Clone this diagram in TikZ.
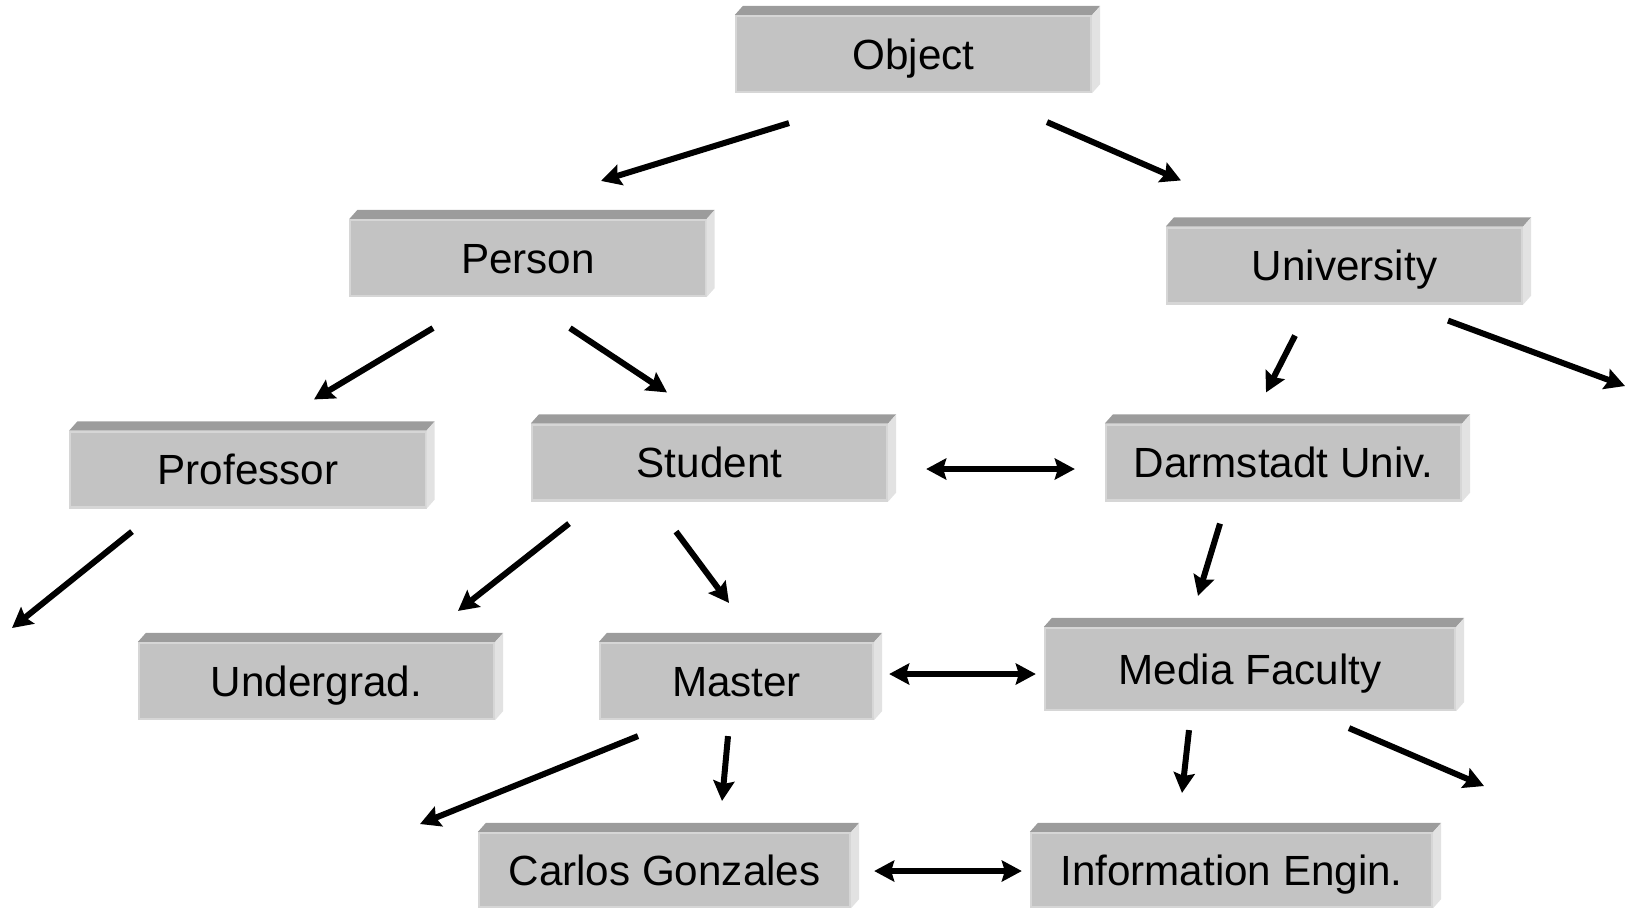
\documentclass[tikz,border=0pt]{standalone}
\usepackage{fontspec}
\setmainfont{Liberation Sans}
\usepackage{xcolor}
\usetikzlibrary{calc,arrows.meta}

\definecolor{boxfront}{HTML}{C3C3C3}
\definecolor{boxtop}{HTML}{9C9C9C}
\definecolor{boxside}{HTML}{E2E2E2}
\definecolor{boxedge}{HTML}{D6D6D6}

\tikzset{
  classbox/.style={fill=boxfront, draw=boxedge, line width=0.6pt, inner sep=0pt,
    text height=8.6pt, text depth=0pt,
    minimum width=3.55cm, minimum height=0.76cm, font=\fontsize{12pt}{14pt}\selectfont},
  arr/.style={line width=0.06cm, -{Stealth[length=0.2cm,width=0.21cm,inset=0.03cm]}},
  biarr/.style={line width=0.06cm, {Stealth[length=0.2cm,width=0.21cm,inset=0.03cm]}-{Stealth[length=0.2cm,width=0.21cm,inset=0.03cm]}}
}

\begin{document}
\begin{tikzpicture}[x=0.01cm, y=-0.01cm]
        \useasboundingbox (0,0) rectangle (1625,908);

        % Draw the class boxes
        \node[classbox] (obj) at (913.5,54) {Object};
        \node[classbox] (per) at (528,258) {Person};
        \node[classbox] (uni) at (1344.5,265.5) {University};
        \node[classbox] (prof) at (248,469.5) {Professor};
        \node[classbox] (stu) at (709.5,462.5) {Student};
        \node[classbox] (dar) at (1283.5,462.5) {Darmstadt Univ.};
        \node[classbox] (und) at (316.5,681) {Undergrad.};
        \node[classbox, minimum width=2.73cm] (mas) at (736.5,681) {Master};
        \node[classbox, minimum width=4.10cm, minimum height=0.82cm] (med) at (1250,669) {Media Faculty};
        \node[classbox, minimum width=3.71cm, minimum height=0.74cm] (car) at (664.5,870) {Carlos Gonzales};
        \node[classbox, minimum width=4.01cm, minimum height=0.74cm] (inf) at (1231.5,870) {Information Engin.};

        % Add the top and side faces
        \foreach \n in {obj,per,uni,prof,stu,dar,und,mas,med,car,inf}{
          \fill[boxtop] (\n.north west) -- ++(8,-9) -- ($(\n.north east)+(8,-9)$) -- (\n.north east) -- cycle;
          \fill[boxside] (\n.north east) -- ++(8,-9) -- ($(\n.south east)+(8,-9)$) -- (\n.south east) -- cycle;
        }

        % Free ends of the arrows leaving the picture
        \coordinate (uniout) at (1625,386);
        \coordinate (profout) at (12,628);
        \coordinate (masout) at (420,824);
        \coordinate (medout) at (1484,786);

        % Draw the inheritance arrows
        \draw[arr] ($(obj.south)+(-124.5,30)$) -- ($(per.north)+(73,-38)$);
        \draw[arr] ($(obj.south)+(133.5,29)$) -- ($(uni.north)+(-163.5,-46)$);
        \draw[arr] ($(per.south)+(-95,31)$) -- ($(prof.north)+(66,-31)$);
        \draw[arr] ($(per.south)+(42,31)$) -- ($(stu.north)+(-42.5,-31)$);
        \draw[arr] ($(uni.south)+(-49.5,31)$) -- ($(dar.north)+(-17.5,-31)$);
        \draw[arr] ($(uni.south)+(103.5,16)$) -- (uniout);
        \draw[arr] ($(prof.south)+(-116,23)$) -- (profout);
        \draw[arr] ($(stu.south)+(-140.5,22)$) -- ($(und.north)+(141.5,-31)$);
        \draw[arr] ($(stu.south)+(-33.5,30)$) -- ($(mas.north)+(-7.5,-39)$);
        \draw[arr] ($(dar.south)+(-63.5,22)$) -- ($(med.north)+(-52,-31)$);
        \draw[arr] ($(mas.south)+(-98.5,16)$) -- (masout);
        \draw[arr] ($(mas.south)+(-8.5,16)$) -- ($(car.north)+(57.5,-31)$);
        \draw[arr] ($(med.south)+(-61,19)$) -- ($(inf.north)+(-49.5,-39)$);
        \draw[arr] ($(med.south)+(99,17)$) -- (medout);

        % Draw the two-way links
        \draw[biarr] ($(stu.east)+(38,6.5)$) -- ($(dar.west)+(-30,6.5)$);
        \draw[biarr] ($(mas.east)+(15,-7)$) -- ($(med.west)+(-8,5)$);
        \draw[biarr] ($(car.east)+(23,1)$) -- ($(inf.west)+(-8,1)$);
    \end{tikzpicture}
\end{document}
